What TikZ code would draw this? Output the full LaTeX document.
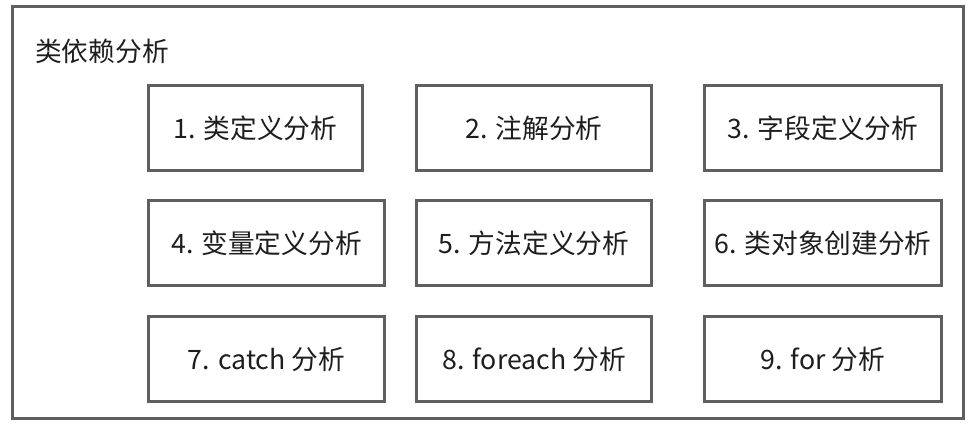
\documentclass[tikz,border=0pt]{standalone}
\usepackage{fontspec}
\setmainfont{Noto Sans CJK SC}
\usetikzlibrary{positioning}
\definecolor{boxgray}{RGB}{95,95,95}
\definecolor{textgray}{RGB}{30,30,30}
\tikzset{
  stagebox/.style={draw=boxgray, line width=2.1pt, fill=white, align=center,
    font=\fontsize{19}{23}\selectfont, text=textgray, minimum height=2.125cm, inner sep=0pt},
  outerbox/.style={draw=boxgray, line width=2.1pt},
  grouptitle/.style={font=\fontsize{19}{23}\selectfont, text=textgray, inner sep=0pt, anchor=west},
}
\begin{document}
\begin{tikzpicture}[x=0.025cm, y=-0.025cm]
  \useasboundingbox (0,0) rectangle (980,427);
  % outer frame
  \draw[outerbox] (12.5,6.5) rectangle (963.5,418.5);
  \node[grouptitle] (title) at (35,51) {类依赖分析};
  % row 1
  \node[stagebox, minimum width=5.35cm]  (classdef) at (255.5,128) {1. 类定义分析};
  \node[stagebox, minimum width=5.875cm] (annot)    at (534,128)   {2. 注解分析};
  \node[stagebox, minimum width=5.925cm] (fielddef) at (823,128)   {3. 字段定义分析};
  % row 2
  \node[stagebox, minimum width=5.9cm]   (vardef)   at (266.5,243) {4. 变量定义分析};
  \node[stagebox, minimum width=5.875cm] (methdef)  at (534,243)   {5. 方法定义分析};
  \node[stagebox, minimum width=5.925cm] (newobj)   at (823,243)   {6. 类对象创建分析};
  % row 3
  \node[stagebox, minimum width=5.9cm]   (catch)    at (266.5,359) {7. catch 分析};
  \node[stagebox, minimum width=5.875cm] (foreach)  at (534,359)   {8. foreach 分析};
  \node[stagebox, minimum width=5.925cm] (forloop)  at (823,359)   {9. for 分析};
\end{tikzpicture}
\end{document}
